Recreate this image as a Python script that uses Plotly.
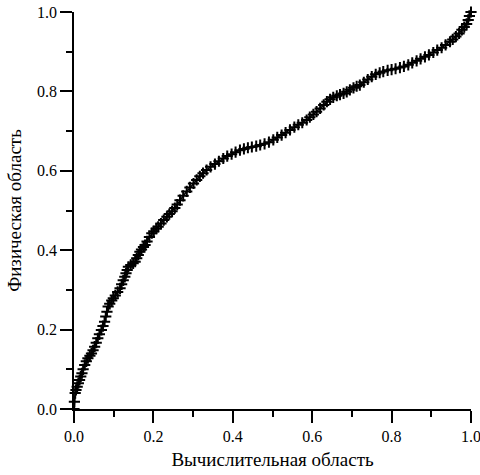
import plotly.graph_objects as go

x_vals = [
    0.000, 0.001, 0.003, 0.005, 0.008, 0.011, 0.014, 0.017, 0.020, 0.023,
    0.027, 0.031, 0.035, 0.040, 0.044, 0.048, 0.052, 0.056, 0.060, 0.064,
    0.069, 0.073, 0.077, 0.080, 0.083, 0.086, 0.090, 0.095, 0.099, 0.104,
    0.110, 0.116, 0.120, 0.124, 0.128, 0.131, 0.134, 0.137, 0.143, 0.149,
    0.154, 0.158, 0.162, 0.166, 0.170, 0.175, 0.179, 0.184, 0.190, 0.196,
    0.201, 0.207, 0.212, 0.219, 0.226, 0.234, 0.240, 0.247, 0.254, 0.260,
    0.267, 0.275, 0.284, 0.292, 0.301, 0.309, 0.317, 0.325, 0.334, 0.344,
    0.355, 0.365, 0.376, 0.386, 0.397, 0.407, 0.418, 0.428, 0.438, 0.448,
    0.459, 0.469, 0.480, 0.491, 0.502, 0.512, 0.523, 0.533, 0.544, 0.555,
    0.565, 0.575, 0.586, 0.594, 0.603, 0.611, 0.620, 0.629, 0.637, 0.645,
    0.653, 0.662, 0.670, 0.679, 0.687, 0.695, 0.704, 0.712, 0.720, 0.730,
    0.740, 0.750, 0.760, 0.770, 0.779, 0.790, 0.800, 0.810, 0.821, 0.831,
    0.842, 0.852, 0.863, 0.873, 0.884, 0.894, 0.905, 0.915, 0.926, 0.936,
    0.947, 0.954, 0.962, 0.970, 0.977, 0.983, 0.989, 0.993, 0.996, 1.000,
]
y_vals = [
    0.000, 0.018, 0.040, 0.048, 0.056, 0.065, 0.073, 0.082, 0.090, 0.100,
    0.111, 0.120, 0.128, 0.134, 0.140, 0.148, 0.157, 0.167, 0.178, 0.188,
    0.199, 0.209, 0.220, 0.233, 0.245, 0.258, 0.265, 0.273, 0.279, 0.286,
    0.295, 0.304, 0.314, 0.324, 0.333, 0.342, 0.350, 0.358, 0.363, 0.367,
    0.371, 0.380, 0.388, 0.396, 0.402, 0.408, 0.413, 0.422, 0.433, 0.443,
    0.448, 0.454, 0.459, 0.467, 0.476, 0.484, 0.491, 0.498, 0.506, 0.515,
    0.526, 0.537, 0.548, 0.558, 0.568, 0.577, 0.586, 0.594, 0.602, 0.610,
    0.617, 0.624, 0.631, 0.637, 0.642, 0.647, 0.652, 0.655, 0.658, 0.660,
    0.662, 0.665, 0.668, 0.672, 0.678, 0.684, 0.690, 0.696, 0.703, 0.710,
    0.716, 0.721, 0.728, 0.735, 0.742, 0.749, 0.757, 0.766, 0.774, 0.780,
    0.785, 0.789, 0.792, 0.795, 0.799, 0.804, 0.809, 0.813, 0.816, 0.823,
    0.830, 0.837, 0.843, 0.847, 0.850, 0.853, 0.855, 0.857, 0.860, 0.863,
    0.867, 0.872, 0.877, 0.882, 0.887, 0.892, 0.898, 0.904, 0.910, 0.917,
    0.925, 0.931, 0.938, 0.946, 0.955, 0.962, 0.970, 0.980, 0.990, 1.000,
]

x_title = "Вычислительная область"
y_title = "Физическая область"
tick_vals = [0.0, 0.2, 0.4, 0.6, 0.8, 1.0]
tick_text = ["0.0", "0.2", "0.4", "0.6", "0.8", "1.0"]

FONT = "Times New Roman, Liberation Serif, Tinos, Noto Serif, DejaVu Serif, serif"

fig = go.Figure()
fig.add_trace(go.Scatter(
    x=x_vals, y=y_vals,
    mode="lines+markers",
    line=dict(color="black", width=1.5),
    marker=dict(symbol="cross-thin", size=8, color="black",
                line=dict(color="black", width=2)),
    cliponaxis=False,
    showlegend=False,
))

axis_common = dict(
    range=[0, 1],
    automargin=False,
    showgrid=False,
    zeroline=False,
    showline=True,
    linecolor="black",
    linewidth=1.5,
    ticks="outside",
    ticklen=12,
    tickwidth=1.5,
    tickcolor="black",
    tickvals=tick_vals,
    ticktext=tick_text,
    ticklabeloverflow="allow",
    tickfont=dict(family=FONT, size=16, color="black"),
    minor=dict(ticks="outside", ticklen=6, tickwidth=1.5, tickcolor="black",
               dtick=0.1, tick0=0, showgrid=False),
)

fig.update_xaxes(**axis_common,
                 title=dict(text=x_title, font=dict(family=FONT, size=19, color="black"),
                            standoff=9))
fig.update_yaxes(**axis_common,
                 title=dict(text=y_title, font=dict(family=FONT, size=19, color="black"),
                            standoff=10))

fig.update_layout(
    width=480, height=475,
    margin=dict(l=74, r=9, t=12, b=66),
    plot_bgcolor="white",
    paper_bgcolor="white",
    font=dict(family=FONT, color="black"),
)

fig.write_html(
    "out.html",
    config={"displayModeBar": False},
    post_script="document.body.style.margin='0';document.body.style.padding='0';",
)
